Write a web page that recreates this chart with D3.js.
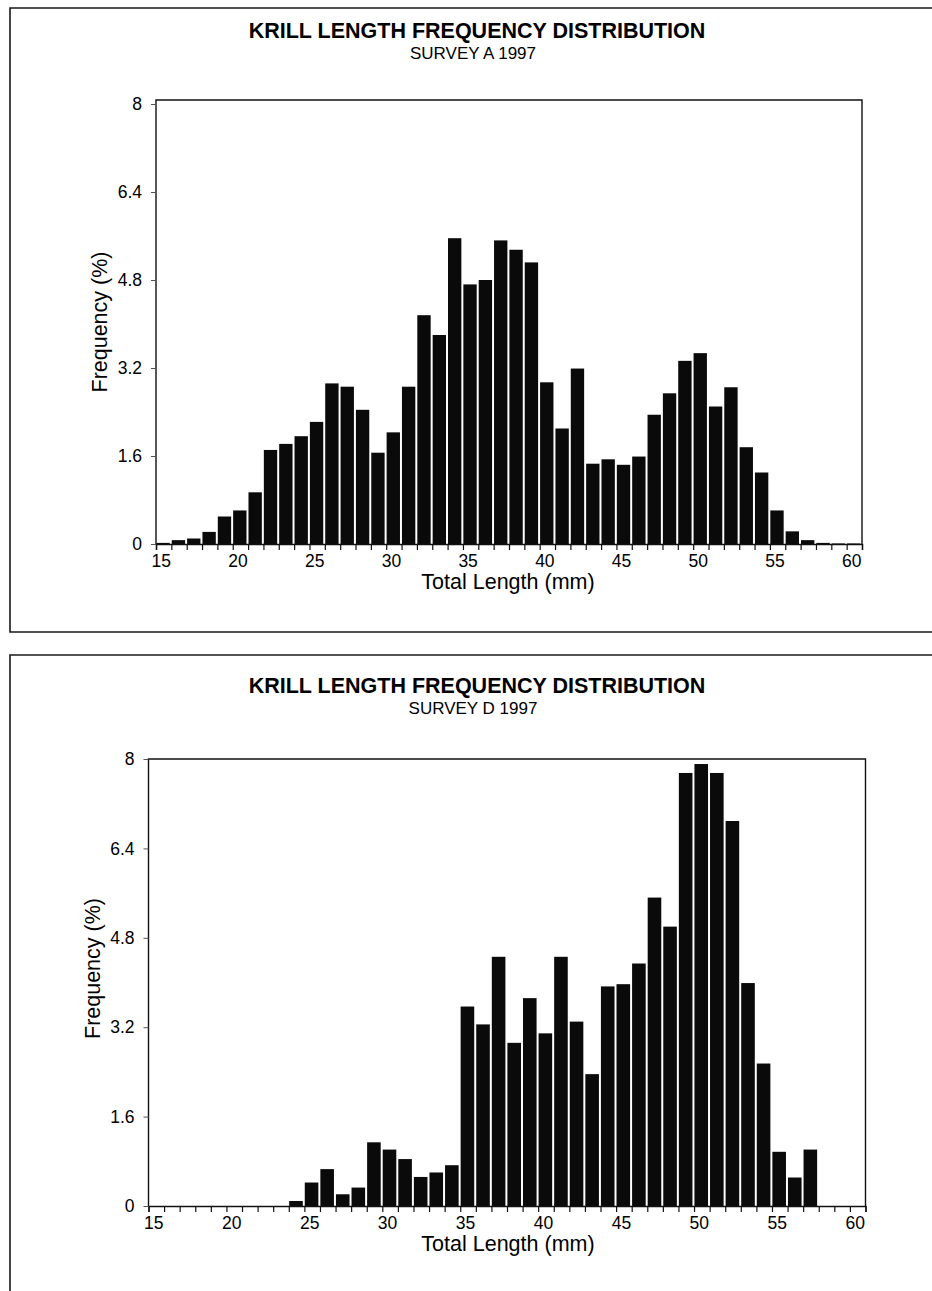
<!DOCTYPE html>
<html lang="en">
<head>
<meta charset="UTF-8">
<script src="https://d3js.org/d3.v7.min.js"></script>
<title>Krill length frequency</title>
<style>
    body { margin: 0; background: white; }
    svg { display: block; font-family: "Liberation Sans", Arial, sans-serif; }
</style>
</head>
<body>
<div id="chart"></div>
<script>
    // length classes (mm) and frequencies (%)
    const lengths = d3.range(15, 61);
    const surveyA = [0.02, 0.07, 0.10, 0.22, 0.50, 0.61, 0.94, 1.71, 1.82, 1.96,
        2.22, 2.92, 2.86, 2.44, 1.66, 2.03, 2.86, 4.16, 3.80, 5.56,
        4.72, 4.80, 5.52, 5.35, 5.12, 2.94, 2.10, 3.19, 1.46, 1.54,
        1.44, 1.59, 2.35, 2.74, 3.33, 3.47, 2.50, 2.85, 1.76, 1.30,
        0.61, 0.23, 0.07, 0.02, 0.01, 0.01];
    const surveyD = [0, 0, 0, 0, 0, 0, 0, 0, 0, 0.09,
        0.42, 0.66, 0.21, 0.33, 1.14, 1.01, 0.84, 0.52, 0.60, 0.73,
        3.57, 3.25, 4.46, 2.92, 3.72, 3.09, 4.46, 3.30, 2.36, 3.93,
        3.97, 4.34, 5.52, 5.00, 7.75, 7.91, 7.75, 6.89, 3.99, 2.55,
        0.97, 0.51, 1.01, 0, 0, 0];
    const xLabels = [15, 20, 25, 30, 35, 40, 45, 50, 55, 60];
    const yTicks = [0, 1.6, 3.2, 4.8, 6.4, 8];
    const mainTitle = "KRILL LENGTH FREQUENCY DISTRIBUTION";
    const subtitles = ["SURVEY A 1997", "SURVEY D 1997"];

    const width = 932, height = 1291;
    const svg = d3.select("#chart").append("svg")
        .attr("width", width)
        .attr("height", height);

    const drawPanel = (values, subtitle, box) => {
        const g = svg.append("g");

        // panel outline (open on the right, and at the bottom for the second one)
        const outline = d3.path();
        outline.moveTo(width + 10, box.panelTop);
        outline.lineTo(10, box.panelTop);
        outline.lineTo(10, box.panelBottom);
        if (box.panelBottom < height) outline.lineTo(width + 10, box.panelBottom);
        g.append("path").attr("d", outline.toString())
            .attr("fill", "none").attr("stroke", "#1a1a1a").attr("stroke-width", 1.6);

        g.append("text")
            .attr("x", 477).attr("y", box.titleY)
            .attr("text-anchor", "middle")
            .attr("font-weight", "bold").attr("font-size", 21.5)
            .text(mainTitle);
        g.append("text")
            .attr("x", 473).attr("y", box.titleY + 21)
            .attr("text-anchor", "middle")
            .attr("font-size", 17)
            .text(subtitle);

        const x = d3.scaleLinear().domain([14.5, 60.5]).range([box.left, box.right]);
        const y = d3.scaleLinear().domain([0, 8]).range([box.bottom, box.y8]);
        const step = x(16) - x(15);

        // plot frame
        g.append("path")
            .attr("d", `M${box.left},${box.bottom}V${box.frameTop}H${box.right}V${box.bottom}`)
            .attr("fill", "none").attr("stroke", "#111").attr("stroke-width", 1.4);

        g.selectAll("rect.bar")
            .data(lengths.map((d, i) => ({len: d, val: values[i]})).filter(d => d.val > 0))
            .enter()
            .append("rect")
            .attr("class", "bar")
            .attr("x", d => x(d.len - 0.5) + 0.4)
            .attr("width", step - 2)
            .attr("y", d => y(d.val))
            .attr("height", d => y(0) - y(d.val))
            .attr("fill", "#0a0a0a");

        // x axis: ticks on class boundaries, labels under the bars
        const xAxis = g.append("g")
            .attr("transform", `translate(0,${box.bottom})`)
            .call(d3.axisBottom(x).tickValues(d3.range(14.5, 61, 1)).tickSize(6).tickFormat(""));
        xAxis.select(".domain").attr("stroke", "#111").attr("stroke-width", 1.4);
        xAxis.selectAll(".tick line").attr("stroke", "#111").attr("stroke-width", 1.2);

        g.selectAll("text.xlab")
            .data(xLabels)
            .enter()
            .append("text")
            .attr("class", "xlab")
            .attr("x", d => x(d) - 2.5)
            .attr("y", box.bottom + 23)
            .attr("text-anchor", "middle")
            .attr("font-size", 17.5)
            .text(d => d);

        const yAxis = g.append("g")
            .attr("transform", `translate(${box.left},0)`)
            .call(d3.axisLeft(y).tickValues(yTicks).tickSize(5).tickFormat(d => d));
        yAxis.select(".domain").remove();
        yAxis.selectAll(".tick line").attr("stroke", "#555").attr("stroke-width", 1);
        yAxis.selectAll(".tick text")
            .attr("x", -14)
            .attr("font-size", 17.5)
            .attr("font-family", "\"Liberation Sans\", Arial, sans-serif")
            .attr("fill", "#000");

        g.append("text")
            .attr("x", 508).attr("y", box.bottom + 45)
            .attr("text-anchor", "middle")
            .attr("font-size", 21.5)
            .text("Total Length (mm)");
        g.append("text")
            .attr("transform", `translate(${box.left - 49},${(box.bottom + box.y8) / 2 + box.yTitleShift}) rotate(-90)`)
            .attr("text-anchor", "middle")
            .attr("font-size", 21.5)
            .text("Frequency (%)");
    };

    drawPanel(surveyA, subtitles[0], {
        panelTop: 8, panelBottom: 632, titleY: 38,
        left: 156, right: 862, y8: 104, frameTop: 100, bottom: 544, yTitleShift: -2
    });
    drawPanel(surveyD, subtitles[1], {
        panelTop: 655, panelBottom: height + 10, titleY: 693,
        left: 148.5, right: 865.5, y8: 759, frameTop: 759, bottom: 1206, yTitleShift: -14
    });
</script>
</body>
</html>
